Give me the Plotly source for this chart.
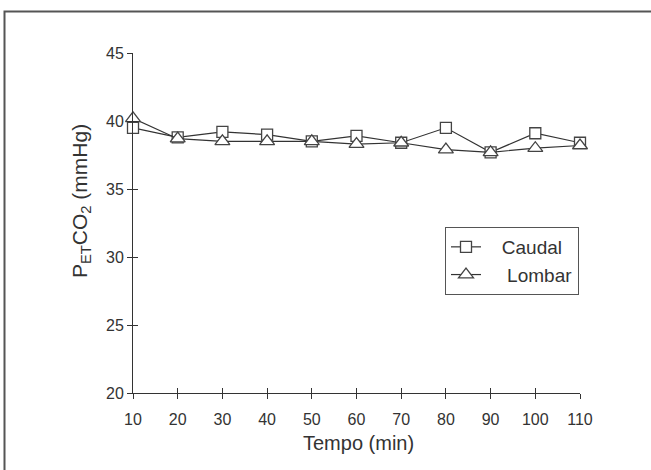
import plotly.graph_objects as go

tempo = [10, 20, 30, 40, 50, 60, 70, 80, 90, 100, 110]
caudal = [39.5, 38.8, 39.2, 39.0, 38.5, 38.9, 38.4, 39.5, 37.7, 39.1, 38.4]
lombar = [40.2, 38.7, 38.5, 38.5, 38.5, 38.3, 38.4, 37.9, 37.7, 38.0, 38.2]
x_ticks = [10, 20, 30, 40, 50, 60, 70, 80, 90, 100, 110]
y_ticks = [20, 25, 30, 35, 40, 45]

W, H = 651, 470
L, R, T, B = 133, 580, 53, 393  # plot area pixel bounds
pw, ph = R - L, B - T

def px_x(p):
    return (p - L) / pw

def px_y(p):
    return (B - p) / ph

FONT = "Liberation Sans, Arial, sans-serif"
INK = "#333333"
NB = "\u00a0"

fig = go.Figure()
fig.add_trace(go.Scatter(
    x=tempo, y=caudal, name=NB * 3 + "Caudal", mode="lines+markers",
    line=dict(color=INK, width=1.2),
    marker=dict(symbol="square", size=11, color="white",
                line=dict(color="#444444", width=1.3)),
    cliponaxis=False,
))
fig.add_trace(go.Scatter(
    x=tempo, y=lombar, name=NB * 4 + "Lombar", mode="lines+markers",
    line=dict(color=INK, width=1.2),
    marker=dict(symbol="triangle-up", size=13, color="white",
                line=dict(color="#444444", width=1.3)),
    cliponaxis=False,
))
# invisible trace to carry the inside-tick overlay axes
fig.add_trace(go.Scatter(
    x=tempo, y=caudal, xaxis="x2", yaxis="y2", mode="lines",
    line=dict(width=0), opacity=0, showlegend=False, hoverinfo="skip",
))

axis_common = dict(showgrid=False, zeroline=False, ticklen=5, tickwidth=1,
                   tickcolor=INK)
fig.update_layout(
    width=W, height=H,
    margin=dict(l=L, r=W - R, t=T, b=H - B),
    paper_bgcolor="white", plot_bgcolor="white",
    font=dict(family=FONT, color=INK, size=16),
    showlegend=True,
    xaxis=dict(range=[10, 110], tickvals=x_ticks, ticks="outside",
               showline=True, linecolor=INK, linewidth=1,
               tickfont=dict(size=16), ticklabelstandoff=7, **axis_common),
    yaxis=dict(range=[20, 45], tickvals=y_ticks, ticks="outside",
               showline=True, linecolor=INK, linewidth=1,
               tickfont=dict(size=16), **axis_common),
    xaxis2=dict(range=[10, 110], tickvals=x_ticks, ticks="inside",
                overlaying="x", anchor="y", showticklabels=False,
                showline=False, **axis_common),
    yaxis2=dict(range=[20, 45], tickvals=y_ticks, ticks="inside",
                overlaying="y", anchor="x", side="left", showticklabels=False,
                showline=False, **axis_common),
    legend=dict(x=px_x(445), y=px_y(227), xanchor="left", yanchor="top",
                bordercolor="#555555", borderwidth=1, bgcolor="white",
                font=dict(size=19, color=INK), tracegroupgap=0,
                itemwidth=30),
)

fig.add_annotation(text="Tempo (min)", xref="paper", yref="paper",
                   x=px_x(358), y=px_y(443), showarrow=False,
                   font=dict(size=20, color=INK), xanchor="center", yanchor="middle")
fig.add_annotation(text="P<sub>ET</sub>CO<sub>2</sub> (mmHg)", xref="paper", yref="paper",
                   x=px_x(81), y=px_y(201), showarrow=False, textangle=-90,
                   font=dict(size=21, color=INK), xanchor="center", yanchor="middle")

# outer frame: top and left edges only, as one open path
xl, xr = px_x(4.5), px_x(651)
yt, yb = px_y(11.5), px_y(470)
fig.add_shape(type="path", xref="paper", yref="paper",
              path=f"M {xl},{yb} L {xl},{yt} L {xr},{yt}",
              line=dict(color="#555555", width=2), fillcolor="rgba(0,0,0,0)",
              layer="below")

fig.write_html("out.html", config={"displayModeBar": False})
